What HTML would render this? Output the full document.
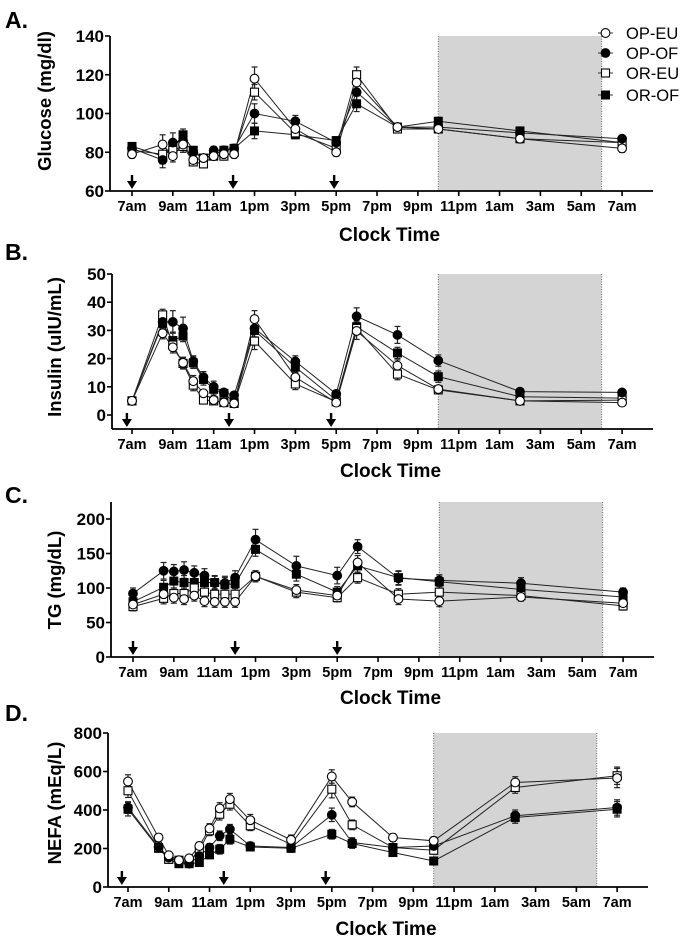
<!DOCTYPE html>
<html><head><meta charset="utf-8">
<style>
html,body{margin:0;padding:0;background:#fff;}
svg{display:block;font-family:"Liberation Sans",Arial,sans-serif;}
</style></head>
<body>
<svg id="chart" width="686" height="948" viewBox="0 0 686 948" xmlns="http://www.w3.org/2000/svg"></svg>
<script>
// ---- shared data ----
const hours = [0,1.5,2,2.5,3,3.5,4,4.5,5,6,8,10,11,13,15,19,24];
const xTickHours = [0,2,4,6,8,10,12,14,16,18,20,22,24];
const xTickLabels = ['7am','9am','11am','1pm','3pm','5pm','7pm','9pm','11pm','1am','3am','5am','7am'];
const seriesNames = ['OP-EU','OP-OF','OR-EU','OR-OF'];
const darkStart = 15, darkEnd = 23;

// ---- A: glucose ----
const gluTicks = [60,80,100,120,140];
const gluOPEU = [79,84,78,84,76,77,78,79,79,118,92,80,116,93,92,87,82];
const gluOPOF = [82,76,85,86,80,77,81,81,82,100,96,85,111,93,93,90,87];
const gluOREU = [81,79,81,83,75,74,78,78,80,111,90,82,120,92,92,87,85];
const gluOROF = [83,78,82,89,81,77,79,81,82,91,89,86,105,93,96,91,85];
const gluErrOPEU = [2,5,3,4,2,2,2,2,2,6,3,2,4,2,2,2,2];
const gluErrOPOF = [2,4,5,4,2,2,2,2,2,5,3,2,4,2,2,2,1];
const gluErrOREU = [2,4,3,3,2,2,2,2,2,4,2,2,4,2,2,2,2];
const gluErrOROF = [2,4,3,3,2,2,2,2,2,4,2,2,4,2,2,2,2];
const gluArrows = [0,4.95,9.9];

// ---- B: insulin ----
const insTicks = [0,10,20,30,40,50];
const insOPEU = [5,29,24,18.5,12,7.7,5.3,4.4,4.1,34,13.4,4.4,29.8,17.5,9.2,5,4.4];
const insOPOF = [5,33,33,30.7,19,13.4,10,8,7,30.7,19,7.5,35,28.4,19.3,8.3,8];
const insOREU = [5,35.5,24.8,18.3,10.6,5.3,5,4.4,4.1,26.2,11,4.7,30.7,14.5,8.9,5,5.3];
const insOROF = [5,32.5,26.4,28,18.5,12.6,9.1,7.7,4.5,30,17,5.3,31.3,22,13.6,6.5,6];
const insErrOPEU = [1,2,2,2,2,1,1,1,1,3,2,1,3,2,1,1,1];
const insErrOPOF = [1,2,4,4,2,2,2,1,1,3,2,1,3,3,2,1,1];
const insErrOREU = [1,2,2,2,2,1,1,1,1,3,2,1,2,2,1,1,1];
const insErrOROF = [1,2,3,2,2,2,2,1,1,3,2,1,2,2,2,1,1];
const insArrows = [-0.25,4.75,9.75];

// ---- C: TG ----
const tgTicks = [0,50,100,150,200];
const tgOPEU = [76,91,86,84,89,81,80,80,80,117,97,89,137,84,81,87,78];
const tgOPOF = [92,125,124,126,122,118,107,107,115,170,132,118,160,114,111,107,94];
const tgOREU = [73,85,92,92,100,94,91,91,91,117,94,86,115,91,94,89,74];
const tgOROF = [80,101,110,108,108,108,108,105,106,156,120,94,132,115,109,98,87];
const tgErrOPEU = [6,8,8,8,8,8,8,8,8,8,8,6,10,8,8,6,6];
const tgErrOPOF = [8,12,10,12,10,10,10,10,10,15,14,12,10,10,8,8,6];
const tgErrOREU = [6,8,8,8,8,8,8,8,8,8,8,6,8,8,8,6,6];
const tgErrOROF = [6,10,10,10,10,10,10,10,10,10,10,8,10,10,10,8,6];
const tgArrows = [0,5,10];

// ---- D: NEFA ----
const nefaTicks = [0,200,400,600,800];
const nefaOPEU = [548,257,165,139,149,213,304,408,456,347,245,574,442,257,240,543,566];
const nefaOPOF = [413,208,153,135,121,161,205,266,300,213,205,375,231,205,213,370,413];
const nefaOREU = [500,205,144,139,132,191,292,378,430,318,222,508,323,205,191,517,578];
const nefaOROF = [404,201,144,121,121,127,167,196,248,208,201,274,226,179,135,361,404];
const nefaErrOPEU = [35,20,15,15,15,20,25,30,30,30,25,35,25,20,20,30,50];
const nefaErrOPOF = [30,20,15,15,15,15,20,25,25,20,20,35,25,20,15,30,40];
const nefaErrOREU = [35,20,15,15,15,20,25,30,30,25,20,45,25,20,20,30,45];
const nefaErrOROF = [35,20,15,15,15,15,20,25,25,20,20,25,25,20,15,30,40];
const nefaArrows = [-0.3,4.7,9.7];

const NS = 'http://www.w3.org/2000/svg';
const svg = document.getElementById('chart');
function mk(tag, attrs, parent){
  const e = document.createElementNS(NS, tag);
  for (const k in attrs) e.setAttribute(k, attrs[k]);
  (parent||svg).appendChild(e);
  return e;
}

const panels = [
  {key:'glucose', letter:'A.', letterY:28, ylabel:'Glucose (mg/dl)', ylabelY:101, ylabelX:51,
   x0:132, pxh:20.42, yAxisX:110, xEnd:653, pTop:36, pBot:191, axisTopPx:36, axisBotPx:191,
   ticks:gluTicks, tickLabY:211, titleY:241,
   data:[gluOPEU,gluOPOF,gluOREU,gluOROF], err:[gluErrOPEU,gluErrOPOF,gluErrOREU,gluErrOROF], arrows:gluArrows},
  {key:'insulin', letter:'B.', letterY:260, ylabel:'Insulin (uIU/mL)', ylabelY:347, ylabelX:61,
   x0:132, pxh:20.42, yAxisX:112, xEnd:653, pTop:274, pBot:415, axisTopPx:274, axisBotPx:429,
   ticks:insTicks, tickLabY:449, titleY:477,
   data:[insOPEU,insOPOF,insOREU,insOROF], err:[insErrOPEU,insErrOPOF,insErrOREU,insErrOROF], arrows:insArrows},
  {key:'tg', letter:'C.', letterY:503, ylabel:'TG (mg/dL)', ylabelY:580, ylabelX:61,
   x0:133, pxh:20.42, yAxisX:111, xEnd:654, pTop:519, pBot:657, axisTopPx:502, axisBotPx:657,
   ticks:tgTicks, tickLabY:677, titleY:704,
   data:[tgOPEU,tgOPOF,tgOREU,tgOROF], err:[tgErrOPEU,tgErrOPOF,tgErrOREU,tgErrOROF], arrows:tgArrows},
  {key:'nefa', letter:'D.', letterY:721, ylabel:'NEFA (mEq/L)', ylabelY:803, ylabelX:61,
   x0:128, pxh:20.38, yAxisX:108, xEnd:648, pTop:733, pBot:887, axisTopPx:733, axisBotPx:887,
   ticks:nefaTicks, tickLabY:907, titleY:935,
   data:[nefaOPEU,nefaOPOF,nefaOREU,nefaOROF], err:[nefaErrOPEU,nefaErrOPOF,nefaErrOREU,nefaErrOROF], arrows:nefaArrows}
];

function marker(g, i, x, y){
  let m;
  if (i===0) m = mk('circle',{cx:x,cy:y,r:4.4,fill:'#fff',stroke:'#000','stroke-width':1.1},g);
  else if (i===1) m = mk('circle',{cx:x,cy:y,r:4.4,fill:'#000',stroke:'#000','stroke-width':1},g);
  else if (i===2) m = mk('rect',{x:x-4,y:y-4,width:8,height:8,fill:'#fff',stroke:'#000','stroke-width':1.1},g);
  else m = mk('rect',{x:x-4,y:y-4,width:8,height:8,fill:'#000',stroke:'#000','stroke-width':1},g);
  return m;
}

panels.forEach(p=>{
  const g = mk('g',{});
  
  
  const X = h => p.x0 + h*p.pxh;
  const Y = v => p.pBot - (v - p.ticks[0])/(p.ticks[p.ticks.length-1]-p.ticks[0])*(p.pBot-p.pTop);

  const lt = mk('text',{x:5,y:p.letterY,'font-size':23,'font-weight':'bold'},g);
  lt.textContent = p.letter;
  
  

  const sh = mk('rect',{x:X(darkStart),y:p.axisTopPx,width:X(darkEnd)-X(darkStart),height:p.axisBotPx-p.axisTopPx,fill:'#d4d4d4'},g);
  
  
  [darkStart,darkEnd].forEach(h=>{
    mk('line',{x1:X(h),x2:X(h),y1:p.axisTopPx,y2:p.axisBotPx,stroke:'#666','stroke-width':1,'stroke-dasharray':'1,1.5'},g);
  });

  const ya = mk('line',{x1:p.yAxisX,x2:p.yAxisX,y1:p.axisTopPx,y2:p.axisBotPx,stroke:'#000','stroke-width':1.8},g);
  
  
  const xa = mk('line',{x1:p.yAxisX,x2:p.xEnd,y1:p.axisBotPx,y2:p.axisBotPx,stroke:'#000','stroke-width':1.8},g);
  
  

  p.ticks.forEach(v=>{
    mk('line',{x1:p.yAxisX-5,x2:p.yAxisX,y1:Y(v),y2:Y(v),stroke:'#000','stroke-width':1.6},g);
    const t = mk('text',{x:p.yAxisX-6,y:Y(v)+6,'font-size':17,'font-weight':'bold','text-anchor':'end'},g);
    t.textContent = v;
    
    
  });
  xTickHours.forEach((h,i)=>{
    mk('line',{x1:X(h),x2:X(h),y1:p.axisBotPx,y2:p.axisBotPx+5,stroke:'#000','stroke-width':1.6},g);
    const t = mk('text',{x:X(h),y:p.tickLabY,'font-size':14.5,'font-weight':'bold','text-anchor':'middle'},g);
    t.textContent = xTickLabels[i];
    
    
  });
  const xt = mk('text',{x:(p.yAxisX+p.xEnd)/2+8,y:p.titleY,'font-size':19,'font-weight':'bold','text-anchor':'middle'},g);
  xt.textContent = 'Clock Time';
  
  
  const yl = mk('text',{x:0,y:0,'font-size':18.5,'font-weight':'bold','text-anchor':'middle',transform:`translate(${p.ylabelX},${p.ylabelY}) rotate(-90)`},g);
  yl.textContent = p.ylabel;
  
  

  p.arrows.forEach(h=>{
    const ax = X(h), by = p.axisBotPx-2;
    const a = mk('path',{d:`M${ax-1.2},${by-14} L${ax+1.2},${by-14} L${ax+1.2},${by-8} L${ax+5},${by-8} L${ax},${by} L${ax-5},${by-8} L${ax-1.2},${by-8} Z`,fill:'#000'},g);
    
    
  });

  [3,2,1,0].forEach(i=>{
    const vals = p.data[i];
    const pts = vals.map((v,k)=>X(hours[k]).toFixed(1)+','+Y(v).toFixed(1)).join(' ');
    const pl = mk('polyline',{points:pts,fill:'none',stroke:'#222','stroke-width':1},g);
    
    
  });
  [3,2,1,0].forEach(i=>{
    const vals = p.data[i], errs = p.err[i];
    vals.forEach((v,k)=>{
      const x = X(hours[k]), y1 = Y(v+errs[k]), y2 = Y(v-errs[k]);
      mk('line',{x1:x,x2:x,y1:y1,y2:y2,stroke:'#222','stroke-width':1.2},g);
      mk('line',{x1:x-3,x2:x+3,y1:y1,y2:y1,stroke:'#222','stroke-width':1.2},g);
      mk('line',{x1:x-3,x2:x+3,y1:y2,y2:y2,stroke:'#222','stroke-width':1.2},g);
    });
  });
  [3,2,1,0].forEach(i=>{
    p.data[i].forEach((v,k)=>{
      const m = marker(g, i, X(hours[k]), Y(v));
      
      
    });
  });
});

const lg = mk('g',{});


const legY = [33,53,73,95];
seriesNames.forEach((n,i)=>{
  const y = legY[i];
  mk('line',{x1:598,x2:613,y1:y,y2:y,stroke:'#333','stroke-width':1},lg);
  const m = marker(lg, i, 605.5, y);
  
  
  const t = mk('text',{x:626,y:y+6,'font-size':16.5},lg);
  t.textContent = n;
  
  
});
</script>
</body></html>
